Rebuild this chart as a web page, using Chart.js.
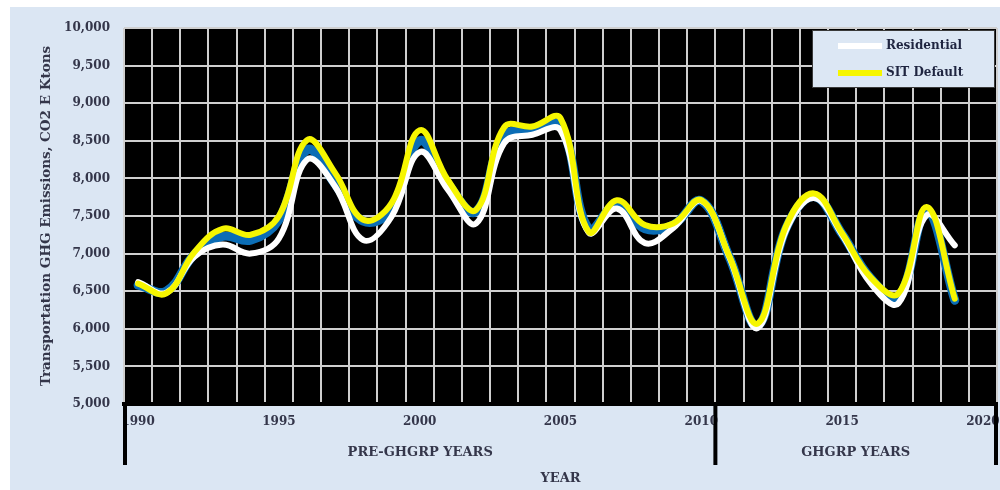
<!DOCTYPE html>
<html lang="en">
<head>
    <meta charset="UTF-8">
    <title>Transportation GHG Emissions</title>
    <script src="https://cdn.jsdelivr.net/npm/chart.js@4.4.1/dist/chart.umd.min.js"></script>
    <style>
        html, body { margin: 0; padding: 0; background: #ffffff; }
        #wrap { width: 1000px; height: 490px; position: relative; }
    </style>
</head>
<body>
    <div id="wrap"><canvas id="ghgChart"></canvas></div>

    <script>
        // data
        const years = ['1990', '1991', '1992', '1993', '1994', '1995', '1996', '1997', '1998', '1999',
                       '2000', '2001', '2002', '2003', '2004', '2005', '2006', '2007', '2008', '2009',
                       '2010', '2011', '2012', '2013', '2014', '2015', '2016', '2017', '2018', '2019', '2020'];
        const residential = [6620, 6480, 6960, 7120, 7000, 7200, 8250, 7890, 7180, 7490,
                             8350, 7850, 7400, 8470, 8580, 8640, 7280, 7600, 7140, 7340,
                             7700, 6950, 6010, 7300, 7740, 7250, 6610, 6340, 7510, 7110, null];
        const sitDefault = [6600, 6470, 7020, 7330, 7250, 7500, 8510, 8070, 7450, 7670,
                            8640, 7980, 7580, 8680, 8690, 8800, 7290, 7710, 7380, 7400,
                            7710, 6960, 6070, 7360, 7800, 7270, 6690, 6470, 7620, 6400, null];
        // blue band under the two lines (not in the legend)
        const band = [6580, 6500, 6990, 7230, 7180, 7450, 8380, 7920, 7430, 7580,
                      8500, 7930, 7560, 8570, 8620, 8700, 7330, 7650, 7330, 7380,
                      7700, 6950, 6040, 7330, 7760, 7260, 6680, 6420, 7560, 6380, null];
        const periods = ['PRE-GHGRP YEARS', 'GHGRP YEARS'];
        const splitYear = '2010';

        const FONT = 'DejaVu Serif';
        const TEXT = '#34364a';

        const decor = {
            id: 'decor',
            beforeDraw(chart) {
                const {ctx, chartArea: a} = chart;
                ctx.save();
                ctx.fillStyle = '#dbe6f3';
                ctx.fillRect(10, 7, chart.width - 10, chart.height - 7);
                ctx.fillStyle = '#000000';
                ctx.fillRect(a.left, a.top, a.right - a.left, a.bottom - a.top);
                ctx.restore();
            },
            afterDraw(chart) {
                const {ctx, chartArea: a, scales: {x}} = chart;
                const i = years.indexOf(splitYear);
                const mid = (x.getPixelForValue(i) + x.getPixelForValue(i + 1)) / 2;
                const edges = [a.left + 1, mid, a.right - 1];
                ctx.save();
                ctx.strokeStyle = '#000';
                ctx.lineWidth = 4;
                edges.forEach(e => {
                    ctx.beginPath();
                    ctx.moveTo(e, a.bottom);
                    ctx.lineTo(e, a.bottom + 61);
                    ctx.stroke();
                });
                ctx.fillStyle = TEXT;
                ctx.font = 'bold 13px "' + FONT + '"';
                ctx.textAlign = 'center';
                ctx.textBaseline = 'middle';
                ctx.fillText(periods[0], (edges[0] + edges[1]) / 2, a.bottom + 49);
                ctx.fillText(periods[1], (edges[1] + edges[2]) / 2, a.bottom + 49);

                // legend box
                const bx = a.right - 185, by = a.top + 2, bw = 183, bh = 58;
                ctx.fillStyle = '#dce7f4';
                ctx.fillRect(bx, by, bw, bh);
                ctx.strokeStyle = '#3a3a3a';
                ctx.lineWidth = 1;
                ctx.strokeRect(bx + 0.5, by + 0.5, bw - 1, bh - 1);
                const items = [chart.data.datasets[0], chart.data.datasets[1]];
                items.forEach((ds, k) => {
                    const ly = by + 16 + k * 27;
                    ctx.strokeStyle = ds.borderColor;
                    ctx.lineWidth = ds.borderWidth;
                    ctx.beginPath();
                    ctx.moveTo(bx + 26, ly);
                    ctx.lineTo(bx + 70, ly);
                    ctx.stroke();
                    ctx.fillStyle = '#1f2540';
                    ctx.font = 'bold 12px "' + FONT + '"';
                    ctx.textAlign = 'left';
                    ctx.fillText(ds.label, bx + 74, ly);
                });
                ctx.restore();
            }
        };

        const ctx = document.getElementById('ghgChart').getContext('2d');
        const ghgChart = new Chart(ctx, {
            type: 'line',
            data: {
                labels: years,
                datasets: [
                    { label: 'Residential', data: residential, borderColor: '#ffffff', borderWidth: 6, order: 2 },
                    { label: 'SIT Default', data: sitDefault, borderColor: '#f6f600', borderWidth: 6, order: 1 },
                    { label: 'band', data: band, borderColor: '#0b6db5', borderWidth: 9, order: 3 }
                ]
            },
            options: {
                responsive: true,
                maintainAspectRatio: false,
                animation: false,
                devicePixelRatio: 1,
                layout: { padding: { top: 28, right: 3, left: 0, bottom: 0 } },
                elements: {
                    line: { tension: 0.4, fill: false, borderCapStyle: 'round', borderJoinStyle: 'round' },
                    point: { radius: 0, hoverRadius: 0 }
                },
                plugins: { legend: { display: false }, tooltip: { enabled: false } },
                scales: {
                    x: {
                        offset: true,
                        grid: { offset: true, color: '#cfcfcf', lineWidth: 2, drawTicks: true, tickLength: 11, tickColor: 'rgba(0,0,0,0)' },
                        border: { display: true, color: '#000', width: 4 },
                        ticks: {
                            autoSkip: false,
                            maxRotation: 0,
                            padding: 0,
                            color: TEXT,
                            font: { family: FONT, size: 12, weight: 'bold' },
                            callback: function (v) {
                                const y = this.getLabelForValue(v);
                                return Number(y) % 5 === 0 ? y : '';
                            }
                        },
                        title: {
                            display: true,
                            text: 'YEAR',
                            color: TEXT,
                            font: { family: FONT, size: 13, weight: 'bold' },
                            padding: { top: 0, bottom: 4 }
                        },
                        afterFit: s => { s.height = 86; }
                    },
                    y: {
                        min: 5000,
                        max: 10000,
                        grid: { color: '#cfcfcf', lineWidth: 2, drawTicks: false },
                        border: { display: false },
                        ticks: {
                            stepSize: 500,
                            padding: 14,
                            color: TEXT,
                            font: { family: FONT, size: 12, weight: 'bold' },
                            callback: v => v.toLocaleString('en-US')
                        },
                        title: {
                            display: true,
                            text: 'Transportation GHG Emissions, CO2 E Ktons',
                            color: TEXT,
                            font: { family: FONT, size: 13.5, weight: 'bold' },
                            padding: { top: 38, bottom: 0 }
                        },
                        afterFit: s => { s.width = 124; }
                    }
                }
            },
            plugins: [decor]
        });
    </script>
</body>
</html>
